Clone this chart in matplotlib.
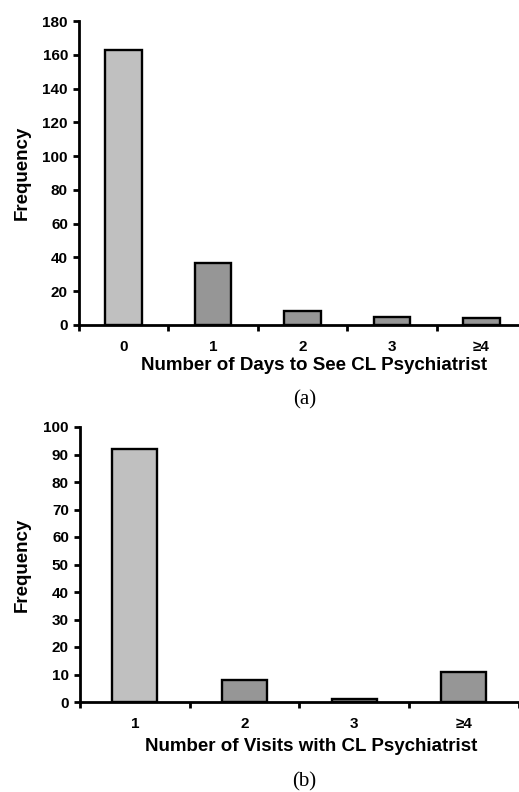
import matplotlib
matplotlib.use("Agg")
import matplotlib.pyplot as plt
import numpy as np

# Panel (a): days from referral until seen by the CL psychiatrist
days_labels = ["0", "1", "2", "3", "\u22654"]
days_freq = [163, 37, 8, 5, 4]

# Panel (b): number of visits with the CL psychiatrist
visits_labels = ["1", "2", "3", "\u22654"]
visits_freq = [92, 8, 1, 11]

LIGHT = "#c0c0c0"
DARK = "#969696"

plt.rcParams["font.family"] = ["Liberation Sans", "DejaVu Sans"]

fig = plt.figure(figsize=(5.19, 7.92), dpi=100)


def draw_panel(ax, labels, values, ymax, ystep, xlabel, label_xy):
    n = len(values)
    x = np.arange(n)
    colors = [LIGHT] + [DARK] * (n - 1)
    ax.bar(x, values, width=0.41, color=colors, edgecolor="black",
           linewidth=1.7, zorder=3)
    ax.set_xlim(-0.5, n - 0.5)
    ax.set_ylim(0, ymax)
    ax.set_yticks(np.arange(0, ymax + 1, ystep))
    ax.set_xticks(x)
    ax.set_xticklabels(labels)
    ax.set_xticks(np.arange(-0.5, n, 1.0), minor=True)
    ax.tick_params(axis="x", which="major", length=0, pad=11,
                   labelsize=11)
    ax.tick_params(axis="x", which="minor", length=4, width=2,
                   direction="out", color="black")
    ax.tick_params(axis="y", length=4, width=2, direction="out", pad=4,
                   labelsize=11)
    for lab in ax.get_xticklabels() + ax.get_yticklabels():
        lab.set_fontweight("bold")
    for side in ("top", "right"):
        ax.spines[side].set_visible(False)
    for side in ("left", "bottom"):
        ax.spines[side].set_linewidth(2)
    ax.set_ylabel("Frequency", fontsize=13.5, fontweight="bold")
    ax.set_xlabel(xlabel, fontsize=13.5, fontweight="bold")
    ax.xaxis.set_label_coords(*label_xy)
    ax.set_facecolor("none")


ax_a = fig.add_axes([79 / 519, 1 - 325 / 792, 447 / 519, 304 / 792])
draw_panel(ax_a, days_labels, days_freq, 180, 20,
           "Number of Days to See CL Psychiatrist", (0.526, -0.106))
ax_a.yaxis.set_label_coords(-0.108, 0.5)

ax_b = fig.add_axes([80 / 519, 1 - 702 / 792, 438.5 / 519, 275 / 792])
draw_panel(ax_b, visits_labels, visits_freq, 100, 10,
           "Number of Visits with CL Psychiatrist", (0.527, -0.130))
ax_b.yaxis.set_label_coords(-0.112, 0.5)

serif = ["Liberation Serif", "DejaVu Serif"]
fig.text(304.5 / 519, 1 - 400 / 792, "(a)", ha="center", va="center",
         fontsize=15, family=serif)
fig.text(304.5 / 519, 1 - 782 / 792, "(b)", ha="center", va="center",
         fontsize=15, family=serif)

fig.savefig("out.png", dpi=100)
